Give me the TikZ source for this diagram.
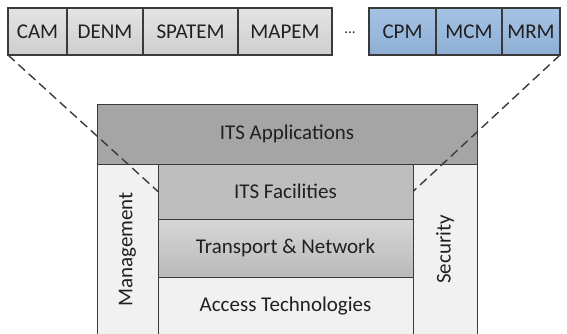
\documentclass[tikz,border=0pt]{standalone}
\usepackage{fontspec}
\setmainfont{Carlito}
\usetikzlibrary{positioning}
\definecolor{edgegray}{RGB}{58, 58, 58}
\definecolor{textdark}{RGB}{32, 32, 32}
\definecolor{msgtop}{RGB}{228, 228, 228}
\definecolor{msgbottom}{RGB}{206, 206, 206}
\definecolor{bluetop}{RGB}{166, 195, 229}
\definecolor{bluebottom}{RGB}{141, 174, 212}
\definecolor{appgray}{RGB}{165, 165, 165}
\definecolor{facgray}{RGB}{190, 190, 190}
\definecolor{nettop}{RGB}{214, 214, 214}
\definecolor{netbottom}{RGB}{186, 186, 186}
\definecolor{lightgray}{RGB}{241, 241, 241}

\begin{document}
\begin{tikzpicture}[
        x=1pt, y=-1pt,
        msg/.style={draw=edgegray, line width=1.2pt, minimum height=47pt, inner sep=0pt, outer sep=0pt,
          top color=msgtop, bottom color=msgbottom, text=textdark, font=\fontsize{21}{24}\selectfont},
        msgblue/.style={msg, top color=bluetop, bottom color=bluebottom},
        layer/.style={draw=edgegray, line width=1pt, inner sep=0pt, outer sep=0pt, text=textdark,
          font=\fontsize{21}{24}\selectfont},
        side/.style={layer, fill=lightgray, rotate=90},
        link/.style={line width=1.4pt, edgegray, dash pattern=on 9pt off 5pt}
      ]
        \useasboundingbox (0,0) rectangle (567,333);

        % message sets
        \node[msg, minimum width=59pt, anchor=north west] (cam) at (8,8) {CAM};
        \node[msg, minimum width=76pt, right=0pt of cam] (denm) {DENM};
        \node[msg, minimum width=95pt, right=0pt of denm] (spatem) {SPATEM};
        \node[msg, minimum width=94pt, right=0pt of spatem] (mapem) {MAPEM};
        \node[text=textdark, font=\fontsize{15}{18}\selectfont] (more) at (350,33) {...};
        \node[msgblue, minimum width=67pt, anchor=north west] (cpm) at (369,8) {CPM};
        \node[msgblue, minimum width=66pt, right=0pt of cpm] (mcm) {MCM};
        \node[msgblue, minimum width=58pt, right=0pt of mcm] (mrm) {MRM};

        % station stack
        \node[layer, fill=appgray, minimum width=380pt, minimum height=60pt, anchor=north west] (apps) at (97,104) {ITS Applications};
        \node[side, minimum width=171pt, minimum height=61pt, below right=0pt and 0pt of apps.south west, anchor=north east] (mgmt) {Management};
        \node[side, minimum width=171pt, minimum height=64pt, below left=0pt and 0pt of apps.south east, anchor=south east] (sec) {Security};
        \node[layer, fill=facgray, minimum width=255pt, minimum height=55pt, anchor=north west] (fac) at (158,164) {ITS Facilities};
        \node[layer, top color=nettop, bottom color=netbottom, minimum width=255pt, minimum height=58pt, below=0pt of fac] (net) {Transport \& Network};
        \node[layer, fill=lightgray, minimum width=255pt, minimum height=58pt, below=0pt of net] (access) {Access Technologies};

        \draw[link] (cam.south west) -- (fac.west);
        \draw[link] (mrm.south east) -- (fac.east);
      \end{tikzpicture}
\end{document}
